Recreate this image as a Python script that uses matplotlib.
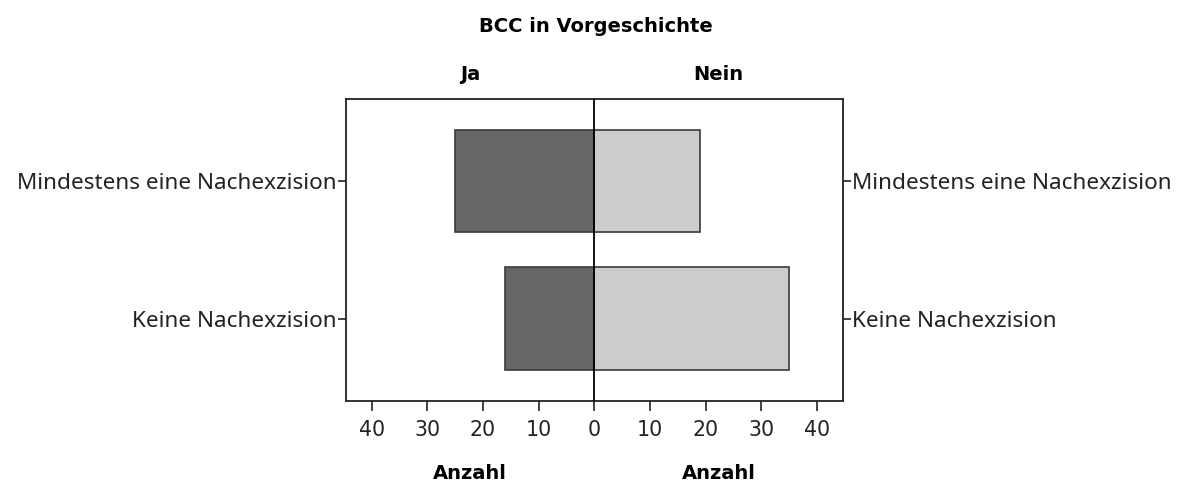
import matplotlib
matplotlib.use("Agg")
import matplotlib.pyplot as plt

# Data
categories = ["Keine Nachexzision", "Mindestens eine Nachexzision"]
ja_counts = [16, 25]
nein_counts = [35, 19]
ticks = [40, 30, 20, 10, 0, 10, 20, 30, 40]
tick_pos = [-40, -30, -20, -10, 0, 10, 20, 30, 40]

xlim = 44.6
dark = "#666666"
light = "#cccccc"
edge = "#3a3a3a"

fig = plt.figure(figsize=(11.89, 4.84), dpi=100)
ax = fig.add_axes([0.291, 0.1715, 0.4178, 0.624])

y = list(range(len(categories)))
ax.barh(y, [-v for v in ja_counts], height=0.745, color=dark, edgecolor=edge, linewidth=1.2, zorder=2)
ax.barh(y, nein_counts, height=0.745, color=light, edgecolor=edge, linewidth=1.2, zorder=2)
ax.axvline(0, color="black", linewidth=1.3, zorder=3)

ax.set_xlim(-xlim, xlim)
ax.set_ylim(-0.6, 1.6)
ax.set_xticks(tick_pos)
ax.set_xticklabels([str(t) for t in ticks], fontfamily="DejaVu Sans")
ax.set_yticks(y)
ax.set_yticklabels(categories, fontfamily="Noto Sans")
ax.tick_params(axis="y", left=True, right=True, labelleft=True, labelright=True,
               direction="out", length=6, width=1.2, labelsize=16.2, pad=1, colors="#222222")
ax.tick_params(axis="x", direction="out", length=7, width=1.2, labelsize=14.8, pad=7, colors="#222222")
for s in ax.spines.values():
    s.set_linewidth(1.3)
    s.set_color("#222222")

bold = dict(family="DejaVu Sans", fontweight="bold", ha="center", va="center", color="black")
ax.text(-xlim / 2, -1.125, "Anzahl", transform=ax.transData, fontsize=14, **bold)
ax.text(xlim / 2, -1.125, "Anzahl", transform=ax.transData, fontsize=14, **bold)
ax.text(-xlim / 2, 1.775, "Ja", transform=ax.transData, fontsize=14, **bold)
ax.text(xlim / 2, 1.775, "Nein", transform=ax.transData, fontsize=14, **bold)
fig.text(596 / 1189, 1 - 26 / 484, "BCC in Vorgeschichte", fontsize=14, **bold)

fig.savefig("out.png", dpi=100)
